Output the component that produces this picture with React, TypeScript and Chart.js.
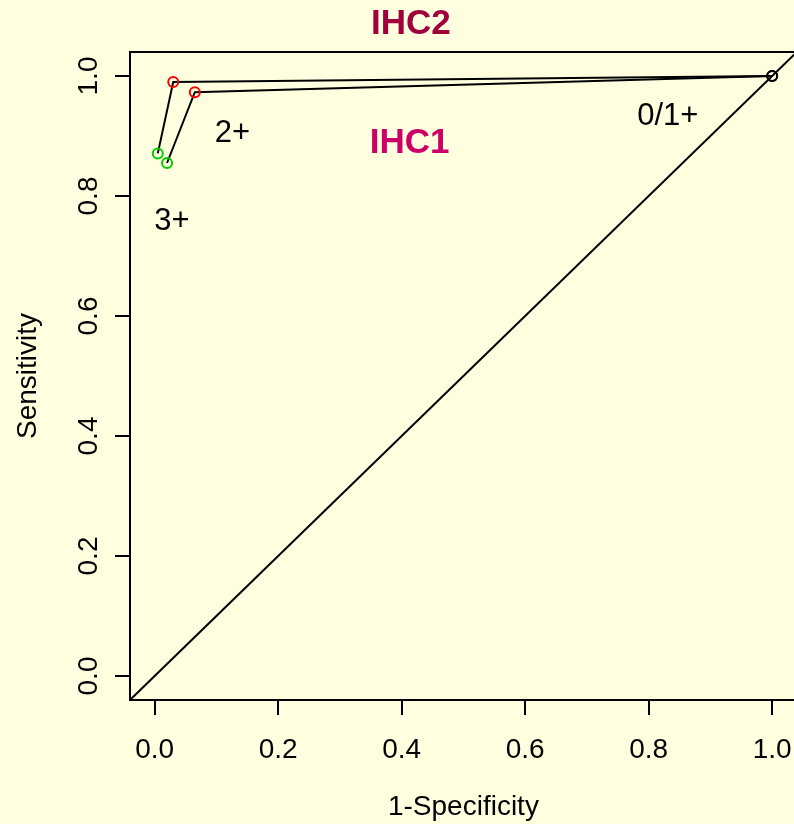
import React, { useEffect, useRef } from "react";
import { Chart, registerables } from "chart.js";

Chart.register(...registerables);

// ---- data ----
const xTickValues = [0, 0.2, 0.4, 0.6, 0.8, 1.0];
const yTickValues = [0, 0.2, 0.4, 0.6, 0.8, 1.0];
const axisMin = -0.04;
const axisMax = 1.04;

const ihc2Spec = [1.0, 0.03, 0.005]; // 1-specificity
const ihc2Sens = [1.0, 0.99, 0.871];
const ihc1Spec = [1.0, 0.065, 0.02];
const ihc1Sens = [1.0, 0.973, 0.855];
const cutoffLabels = ["0/1+", "2+", "3+"];

const diagX = [-0.04, 1.04];
const diagY = [-0.04, 1.04];

const noteTexts = ["0/1+", "2+", "3+", "IHC1", "IHC2"];
const noteX = [0.831, 0.126, 0.028, 0.413, 0.415];
const noteY = [0.933, 0.905, 0.758, 0.8875, 1.086];

const xTitle = "1-Specificity";
const yTitle = "Sensitivity";

// ---- styles ----
const FAMILY = '"Liberation Sans", Arial, Helvetica, sans-serif';
const BG = "#FFFFE0";
const pointColors = ["#000000", "#FF0000", "#00CC00"];
const noteColors = ["#000", "#000", "#000", "#CC0066", "#A0003C"];
const noteFonts = [
  `31px ${FAMILY}`,
  `31px ${FAMILY}`,
  `31px ${FAMILY}`,
  `bold 35px ${FAMILY}`,
  `bold 35px ${FAMILY}`,
];
const AXIS_FONT = 28;

const CANVAS_W = 810;
const CANVAS_H = 824;

const toPts = (xs: number[], ys: number[]) => xs.map((x, i) => ({ x, y: ys[i] }));

const boxAndNotes = {
  id: "boxAndNotes",
  afterDatasetsDraw(chart: any) {
    const { ctx, chartArea, scales } = chart;
    ctx.save();
    ctx.strokeStyle = "#000";
    ctx.lineWidth = 2;
    ctx.strokeRect(
      chartArea.left,
      chartArea.top,
      chartArea.right - chartArea.left,
      chartArea.bottom - chartArea.top
    );
    ctx.textAlign = "center";
    ctx.textBaseline = "middle";
    noteTexts.forEach((t, i) => {
      ctx.font = noteFonts[i];
      ctx.fillStyle = noteColors[i];
      ctx.fillText(t, scales.x.getPixelForValue(noteX[i]), scales.y.getPixelForValue(noteY[i]));
    });
    ctx.restore();
  },
};

export default function App() {
  const ref = useRef<HTMLCanvasElement | null>(null);

  useEffect(() => {
    if (!ref.current) return;
    const lineDs = (label: string, xs: number[], ys: number[]) => ({
      label,
      data: toPts(xs, ys),
      showLine: true,
      borderColor: "#000",
      borderWidth: 2,
      tension: 0,
      pointRadius: 5,
      pointBorderWidth: 2,
      pointBorderColor: pointColors,
      pointBackgroundColor: "rgba(0,0,0,0)",
      pointStyle: "circle",
    });
    const chart = new Chart(ref.current, {
      type: "scatter",
      data: {
        datasets: [
          {
            label: "chance",
            data: toPts(diagX, diagY),
            showLine: true,
            borderColor: "#000",
            borderWidth: 2,
            pointRadius: 0,
          },
          lineDs("IHC2", ihc2Spec, ihc2Sens),
          lineDs("IHC1", ihc1Spec, ihc1Sens),
        ],
      },
      options: {
        responsive: false,
        maintainAspectRatio: false,
        animation: false,
        events: [],
        layout: { padding: { left: 0, top: 52, right: CANVAS_W - 800, bottom: 0 } },
        plugins: {
          legend: { display: false },
          tooltip: { enabled: false },
          title: { display: false },
        },
        scales: {
          x: {
            type: "linear",
            min: axisMin,
            max: axisMax,
            afterBuildTicks: (s: any) => {
              s.ticks = xTickValues.map((v) => ({ value: v }));
            },
            afterFit: (s: any) => {
              s.height = 124;
            },
            border: { display: false },
            grid: {
              drawOnChartArea: false,
              drawTicks: true,
              tickLength: 15,
              tickColor: "#000",
              tickWidth: 2,
              color: "#000",
              lineWidth: 2,
            },
            ticks: {
              autoSkip: false,
              minRotation: 0,
              maxRotation: 0,
              padding: 18,
              color: "#000",
              font: { family: FAMILY, size: AXIS_FONT },
              callback: (v: any) => Number(v).toFixed(1),
            },
            title: {
              display: true,
              text: xTitle,
              color: "#000",
              font: { family: FAMILY, size: AXIS_FONT },
              padding: { top: 0, bottom: 0 },
            },
          },
          y: {
            type: "linear",
            min: axisMin,
            max: axisMax,
            afterBuildTicks: (s: any) => {
              s.ticks = yTickValues.map((v) => ({ value: v }));
            },
            afterFit: (s: any) => {
              s.width = 130;
            },
            border: { display: false },
            grid: {
              drawOnChartArea: false,
              drawTicks: true,
              tickLength: 15,
              tickColor: "#000",
              tickWidth: 2,
              color: "#000",
              lineWidth: 2,
            },
            ticks: {
              autoSkip: false,
              minRotation: 90,
              maxRotation: 90,
              crossAlign: "center",
              padding: 6,
              color: "#000",
              font: { family: FAMILY, size: AXIS_FONT },
              callback: (v: any) => Number(v).toFixed(1),
            },
            title: {
              display: true,
              text: yTitle,
              color: "#000",
              font: { family: FAMILY, size: AXIS_FONT },
              padding: { top: 11, bottom: 0 },
            },
          },
        },
      },
      plugins: [boxAndNotes],
    } as any);
    return () => chart.destroy();
  }, []);

  return (
    <div
      style={{
        position: "absolute",
        left: 0,
        top: 0,
        width: 794,
        height: 824,
        overflow: "hidden",
        background: BG,
      }}
    >
      <canvas
        ref={ref}
        width={CANVAS_W}
        height={CANVAS_H}
        style={{ display: "block", width: CANVAS_W, height: CANVAS_H }}
        aria-label={`ROC curves: ${cutoffLabels.join(", ")}`}
      />
    </div>
  );
}
